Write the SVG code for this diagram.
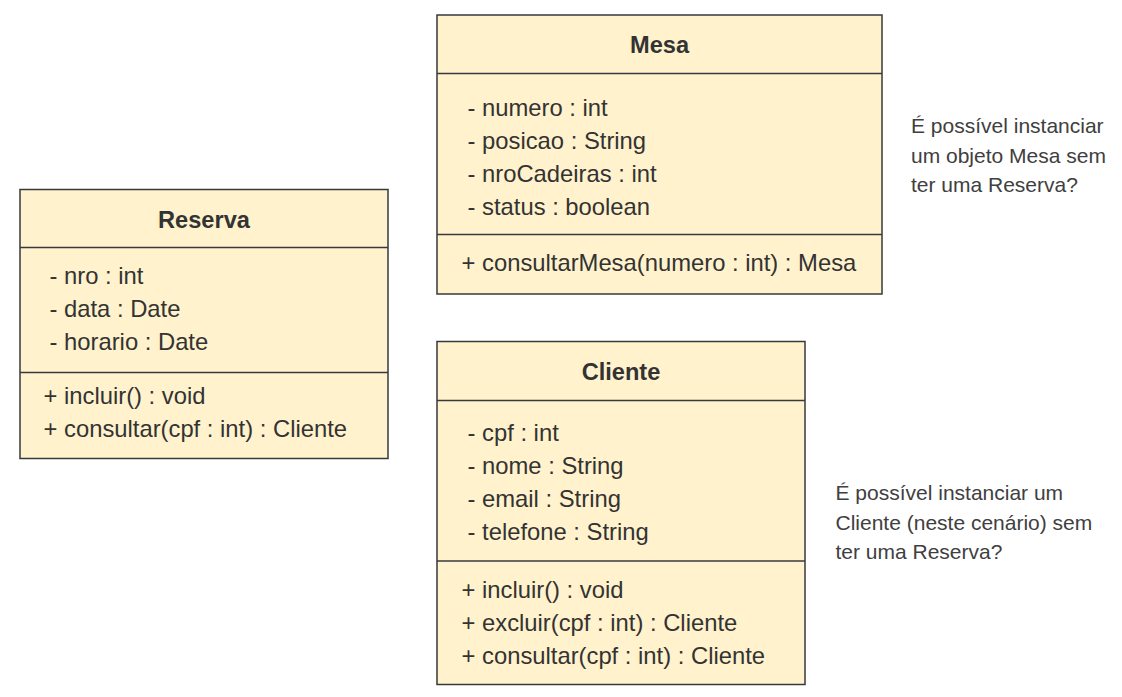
<svg xmlns="http://www.w3.org/2000/svg" width="1122" height="697" viewBox="0 0 1122 697">
<style>
.box{fill:#fff2cc;stroke:#36393d;stroke-width:1.5}
.sep{stroke:#36393d;stroke-width:1.5;fill:none}
.t{font-family:"Liberation Sans",Arial,sans-serif;font-size:23.8px;fill:#333333}
.h{font-family:"Liberation Sans",Arial,sans-serif;font-size:23.6px;font-weight:bold;fill:#333333;text-anchor:middle}
.n{font-family:"Liberation Sans",Arial,sans-serif;font-size:21px;fill:#404040}
</style>
<rect width="1122" height="697" fill="#ffffff"/>
<g id="connectors"></g>
<g id="reserva">
<rect class="box" x="20" y="189.5" width="368" height="269"/>
<line class="sep" x1="20" y1="247.5" x2="388" y2="247.5"/>
<line class="sep" x1="20" y1="372.5" x2="388" y2="372.5"/>
<text class="h" x="204" y="227.5">Reserva</text>
<text class="t" x="49.5" y="283.5">- nro : int</text>
<text class="t" x="49.5" y="316.5">- data : Date</text>
<text class="t" x="49.5" y="349.5">- horario : Date</text>
<text class="t" x="43.5" y="404">+ incluir() : void</text>
<text class="t" x="43.5" y="437">+ consultar(cpf : int) : Cliente</text>
</g>
<g id="mesa">
<rect class="box" x="437" y="15" width="445" height="279"/>
<line class="sep" x1="437" y1="73.5" x2="882" y2="73.5"/>
<line class="sep" x1="437" y1="234.5" x2="882" y2="234.5"/>
<text class="h" x="659.5" y="52.5">Mesa</text>
<text class="t" x="467.5" y="115.5">- numero : int</text>
<text class="t" x="467.5" y="148.5">- posicao : String</text>
<text class="t" x="467.5" y="181.5">- nroCadeiras : int</text>
<text class="t" x="467.5" y="214.5">- status : boolean</text>
<text class="t" x="461.5" y="270.5">+ consultarMesa(numero : int) : Mesa</text>
</g>
<g id="cliente">
<rect class="box" x="437" y="341.5" width="368" height="343"/>
<line class="sep" x1="437" y1="400.5" x2="805" y2="400.5"/>
<line class="sep" x1="437" y1="561" x2="805" y2="561"/>
<text class="h" x="621" y="380">Cliente</text>
<text class="t" x="467.5" y="440.5">- cpf : int</text>
<text class="t" x="467.5" y="473.5">- nome : String</text>
<text class="t" x="467.5" y="506.5">- email : String</text>
<text class="t" x="467.5" y="539.5">- telefone : String</text>
<text class="t" x="461.5" y="597.5">+ incluir() : void</text>
<text class="t" x="461.5" y="630.5">+ excluir(cpf : int) : Cliente</text>
<text class="t" x="461.5" y="663.5">+ consultar(cpf : int) : Cliente</text>
</g>
<g id="note-mesa">
<text class="n" x="911" y="133">É possível instanciar</text>
<text class="n" x="911" y="162.5">um objeto Mesa sem</text>
<text class="n" x="911" y="192">ter uma Reserva?</text>
</g>
<g id="note-cliente">
<text class="n" x="835.5" y="500">É possível instanciar um</text>
<text class="n" x="835.5" y="529.5">Cliente (neste cenário) sem</text>
<text class="n" x="835.5" y="558.5">ter uma Reserva?</text>
</g>
</svg>
